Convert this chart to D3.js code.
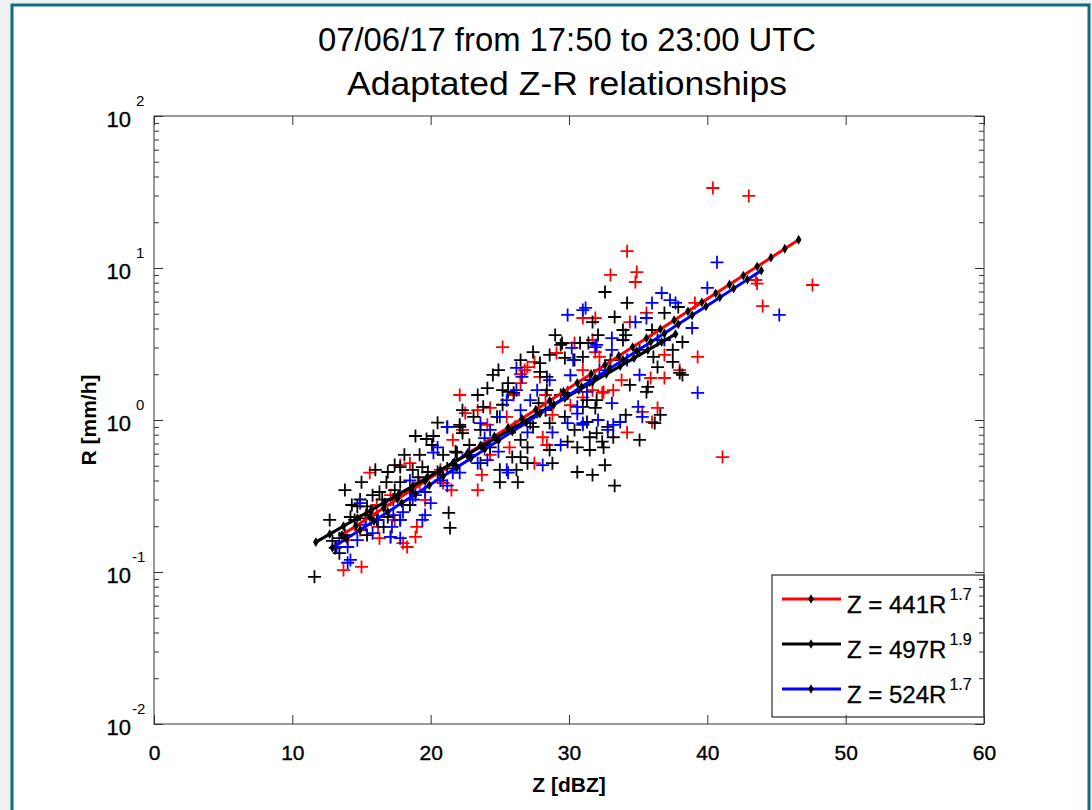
<!DOCTYPE html>
<html><head><meta charset="utf-8">
<script src="https://cdn.jsdelivr.net/npm/d3@7"></script>
<style>html,body{margin:0;padding:0;background:#eef1f1;overflow:hidden}svg{display:block;font-family:"Liberation Sans",Arial,Helvetica,sans-serif}</style>
</head><body><svg id="c" width="1092" height="810"></svg>
<script>
// ---- data (Z in dBZ, R in mm/h) ----
const redZ=[15.6,18.5,21.6,22.3,17.1,16.1,15.3,16.2,16.3,17.1,18.0,18.3,18.9,19.0,21.5,20.9,13.7,15.0,19.2,25.2,31.0,31.9,27.5,26.8,29.1,30.4,31.0,31.7,32.5,22.5,24.3,25.5,28.8,28.1,28.4,27.5,23.7,25.7,26.5,33.0,34.9,34.8,34.4,35.6,39.1,39.3,32.4,33.2,35.9,36.9,38.0,33.8,36.4,35.3,36.0,34.2,41.1,31.7,31.9,40.4,43.0,47.6,44.0,34.2,43.5,43.6,27.0,27.9,32.2,24.1,23.4,23.4,31.0,26.5,
  17.4,14.9,19.6,20.7,17.8,14.0,26.0,28.3,33.7,36.9,30.1,24.3,22.1];
const redR=[0.45,0.52,0.74,0.86,0.32,0.276,0.237,0.198,0.167,0.17,0.155,0.146,0.17,0.198,0.346,0.385,0.103,0.108,0.385,3.02,4.69,4.69,2.41,2.13,2.76,3.21,2.13,1.57,1.53,1.11,1.20,1.05,1.08,0.77,0.685,0.52,0.435,0.66,1.75,9.0,9.4,8.09,4.41,5.06,5.89,2.60,1.51,1.57,1.89,1.89,2.13,1.83,1.20,1.13,0.97,0.83,0.57,3.36,2.80,33.6,29.8,7.73,5.62,12.9,8.34,7.9,2.23,1.92,2.60,0.93,0.346,1.16,1.41,2.0,
  0.22,0.189,0.298,0.47,0.505,0.162,1.46,1.46,2.48,2.68,1.25,0.59,1.46];
const blackZ=[20.5,22.1,18.9,19.7,20.2,20.1,21.8,16.9,16.8,17.8,18.7,19.4,19.8,19.1,20.5,21.2,16.3,15.8,14.9,14.7,15.4,16.5,17.3,14.2,14.5,15.3,16.1,15.4,13.8,13.4,13.1,13.4,21.3,21.4,11.6,16.9,17.8,16.6,32.6,31.7,32.1,31.4,29.5,27.4,24.9,28.6,27.9,28.4,25.6,24.1,25.2,26.0,23.8,25.2,23.1,22.1,22.3,21.2,26.1,27.4,27.8,28.4,29.9,31.0,32.0,31.3,32.8,32.0,29.9,30.6,27.0,28.6,28.8,27.0,25.0,25.0,30.6,31.7,32.6,32.5,21.9,23.6,24.3,25.9,26.3,34.2,33.3,36.9,37.9,38.2,33.9,36.0,36.4,36.1,36.4,37.5,37.5,38.0,38.2,34.4,35.7,35.6,31.5,31.0,30.8,31.3,31.9,36.6,36.2,33.2,32.4,31.5,33.9,33.3,34.1,29.4,29.7,27.9,25.6,24.8,27.2,28.6,29.7,31.5,26.5,26.2,22.3,17.8,
  18.1,17.4,16.0,15.0,13.8,14.3,12.7,15.8,17.4,18.5,20.9,22.8,19.2,12.9,23.4,24.5,26.5,29.0,30.4,33.0,35.1,29.4,26.5,23.6,28.3,34.1,35.1,30.4];
const blackR=[0.96,0.90,0.785,0.75,0.785,0.685,0.62,0.455,0.39,0.39,0.47,0.49,0.455,0.42,0.455,0.48,0.336,0.32,0.30,0.27,0.27,0.30,0.30,0.23,0.22,0.225,0.22,0.175,0.175,0.167,0.144,0.133,0.245,0.195,0.093,0.23,0.22,0.198,6.95,4.41,3.62,3.21,3.21,2.80,2.13,2.68,2.07,1.92,1.75,1.62,1.57,1.51,1.22,1.26,1.05,0.93,0.82,0.90,0.90,0.90,1.29,1.57,1.51,1.22,1.35,0.97,0.90,0.82,0.72,0.66,0.66,0.635,0.52,0.52,0.47,0.39,0.455,0.435,0.505,0.66,0.61,0.52,0.66,0.57,0.39,5.89,4.76,5.06,5.54,3.26,3.91,3.91,3.36,2.60,2.23,2.41,2.89,2.04,1.98,1.70,1.65,1.53,1.83,2.60,3.21,1.35,1.20,1.08,0.955,0.77,0.72,0.635,3.36,0.37,3.62,3.12,2.56,2.37,1.53,1.05,0.955,0.955,1.05,0.77,0.57,0.47,1.16,0.49,
  0.59,0.505,0.47,0.39,0.346,0.276,0.22,0.237,0.346,0.276,0.59,0.685,0.59,0.16,1.46,1.98,2.48,3.62,2.48,2.48,2.89,1.46,0.74,0.86,1.16,1.08,0.74,0.86];
const blueZ=[21.2,20.5,20.2,20.7,21.2,18.5,20.0,19.6,19.4,18.0,17.3,17.8,17.2,16.2,14.9,17.1,17.8,14.0,13.2,14.2,14.0,18.5,18.7,15.8,29.9,31.2,30.2,32.0,26.6,27.7,25.5,25.0,23.6,24.3,30.6,29.9,31.0,28.8,27.0,28.1,25.5,24.1,23.4,24.9,22.1,40.7,40.0,36.7,36.0,37.3,37.7,35.6,34.8,31.0,38.9,33.1,31.9,39.3,35.0,35.3,33.1,32.1,33.2,33.7,32.8,31.0,34.2,33.1,45.2,26.2,30.6,30.1,31.3,26.2,30.3,27.2,23.9,25.6,21.6,19.6,
  15.3,16.7,18.9,21.8,22.7,14.7,28.6,32.2,35.1,36.9,26.5,29.4,23.9];
const blueR=[0.90,0.66,0.61,0.40,0.37,0.40,0.284,0.237,0.22,0.248,0.237,0.22,0.198,0.22,0.284,0.17,0.167,0.146,0.146,0.12,0.115,0.336,0.30,0.18,4.91,5.46,2.98,3.12,1.92,1.57,1.35,1.05,0.955,0.86,1.22,0.955,0.955,0.83,0.83,0.505,0.47,0.545,0.52,0.62,0.45,10.9,7.39,6.85,5.89,6.15,5.89,4.69,4.41,5.29,4.03,3.46,3.02,1.51,1.22,1.05,1.29,1.0,0.93,0.97,0.86,0.93,2.48,2.89,4.91,1.57,1.10,1.97,1.53,2.2,2.48,1.35,0.76,0.45,0.45,0.336,
  0.204,0.276,0.32,0.505,0.59,0.162,1.83,2.13,1.98,3.36,1.16,0.685,0.685];
// fitted Z = a R^b relationships (from legend) and the Z span of each curve
const fitA=[441,497,524];
const fitB=[1.7,1.9,1.7];
const fitZmin=[13.6,11.7,12.9];
const fitZmax=[46.9,37.7,44.1];
const fitColors=["#ff0000","#000000","#0000ff"];
const xTicks=[0,10,20,30,40,50,60];
const yExps=[-2,-1,0,1,2];
const titleLines=["07/06/17 from 17:50 to 23:00 UTC","Adaptated Z-R relationships"];

const svg=d3.select("#c");
// frame
svg.append("rect").attr("x",12).attr("y",5).attr("width",1077).attr("height",830)
  .attr("fill","#fff").attr("stroke","#106a84").attr("stroke-width",3);

const x=d3.scaleLinear().domain([0,60]).range([154,984]);
const y=d3.scaleLog().domain([0.01,100]).range([724,116]);

// title
const titleW=[498,440];
titleLines.forEach((t,i)=>svg.append("text").attr("x",567).attr("y",51+44*i)
  .attr("text-anchor","middle").attr("font-size",34).attr("fill","#000")
  .attr("textLength",titleW[i]).attr("lengthAdjust","spacingAndGlyphs").text(t));

// scatter
const cross="M-6.5,0H6.5M0,-6.5V6.5";
function drawSeries(Z,R,color){
  svg.append("g").selectAll("path").data(Z.map((z,i)=>[z,R[i]])).join("path")
    .attr("d",cross).attr("transform",d=>`translate(${x(d[0])},${y(d[1])})`)
    .attr("stroke",color).attr("stroke-width",1.8).attr("fill","none");
}
drawSeries(redZ,redR,"#ff0000");
drawSeries(blackZ,blackR,"#000000");
drawSeries(blueZ,blueR,"#0000ff");

// fit curves
fitA.forEach((a,i)=>{
  const zs=d3.range(fitZmin[i],fitZmax[i]+1e-6,1);
  if(fitZmax[i]-zs[zs.length-1]>0.3) zs.push(fitZmax[i]);
  const pts=zs.map(z=>[z,Math.pow(Math.pow(10,z/10)/a,1/fitB[i])]);
  const g=svg.append("g");
  g.append("path").attr("d",d3.line().x(d=>x(d[0])).y(d=>y(d[1]))(pts))
    .attr("fill","none").attr("stroke",fitColors[i]).attr("stroke-width",3);
  g.selectAll("path.m").data(pts).join("path").attr("class","m")
    .attr("d",d3.symbol(d3.symbolDiamond,28)())
    .attr("transform",d=>`translate(${x(d[0])},${y(d[1])})`).attr("fill","#000");
});

// legend
const lg=svg.append("g");
lg.append("rect").attr("x",772).attr("y",575).attr("width",212).attr("height",142)
  .attr("fill","#fff").attr("stroke","#000").attr("stroke-width",1);
fitA.forEach((a,i)=>{
  const ly=599+45*i;
  lg.append("line").attr("x1",782).attr("x2",841).attr("y1",ly).attr("y2",ly)
    .attr("stroke",fitColors[i]).attr("stroke-width",3);
  lg.append("path").attr("d",d3.symbol(d3.symbolDiamond,26)()).attr("transform",`translate(811,${ly})`).attr("fill","#000");
  const t=lg.append("text").attr("x",847).attr("y",ly+14).attr("font-size",24).attr("fill","#000")
    .attr("stroke","#000").attr("stroke-width",0.3);
  t.append("tspan").text(`Z = ${a}R`);
  t.append("tspan").attr("font-size",16).attr("dx",3).attr("dy",-13).attr("stroke-width",0.2).text(fitB[i].toFixed(1));
});

// axes
const axColor="#333";
function styleAxis(g){g.select(".domain").remove();g.selectAll("line").attr("stroke",axColor);}
svg.append("rect").attr("x",154).attr("y",116).attr("width",830).attr("height",608)
  .attr("fill","none").attr("stroke",axColor).attr("stroke-width",1);
const gx=svg.append("g").attr("transform","translate(0,724)")
  .call(d3.axisBottom(x).tickValues(xTicks).tickSizeInner(-9).tickSizeOuter(0).tickPadding(21).tickFormat(d3.format("d")));
styleAxis(gx);
gx.selectAll("text").attr("font-size",21).attr("fill","#000").attr("stroke","#000").attr("stroke-width",0.35)
  .attr("font-family","Liberation Sans, Arial, sans-serif");
const gxt=svg.append("g").attr("transform","translate(0,116)")
  .call(d3.axisTop(x).tickValues(xTicks).tickSizeInner(-9).tickSizeOuter(0).tickFormat(""));
styleAxis(gxt);
const majors=yExps.map(e=>Math.pow(10,e));
const minors=[];
yExps.slice(0,-1).forEach(e=>{for(let k=2;k<=9;k++)minors.push(k*Math.pow(10,e));});
[[d3.axisLeft,154],[d3.axisRight,984]].forEach(([ax,px])=>{
  const g1=svg.append("g").attr("transform",`translate(${px},0)`)
    .call(ax(y).tickValues(majors).tickSizeInner(-9).tickSizeOuter(0).tickFormat(""));
  styleAxis(g1);
  const g2=svg.append("g").attr("transform",`translate(${px},0)`)
    .call(ax(y).tickValues(minors).tickSizeInner(-5).tickSizeOuter(0).tickFormat(""));
  styleAxis(g2);
});
// y tick labels 10^n
yExps.forEach(e=>{
  const ty=y(Math.pow(10,e));
  svg.append("text").attr("x",131).attr("y",ty+11).attr("text-anchor","end")
    .attr("font-size",22).attr("fill","#000").attr("stroke","#000").attr("stroke-width",0.35).text("10");
  svg.append("text").attr("x",e<0?132:136).attr("y",ty-10).attr("font-size",15).attr("fill","#000").text(String(e));
});

// axis labels
svg.append("text").attr("x",569).attr("y",792).attr("text-anchor","middle")
  .attr("font-size",21).attr("font-weight","bold").attr("fill","#000").text("Z [dBZ]");
svg.append("text").attr("transform","translate(96,420) rotate(-90)").attr("text-anchor","middle")
  .attr("font-size",21).attr("font-weight","bold").attr("fill","#000").text("R [mm/h]");
</script></body></html>
